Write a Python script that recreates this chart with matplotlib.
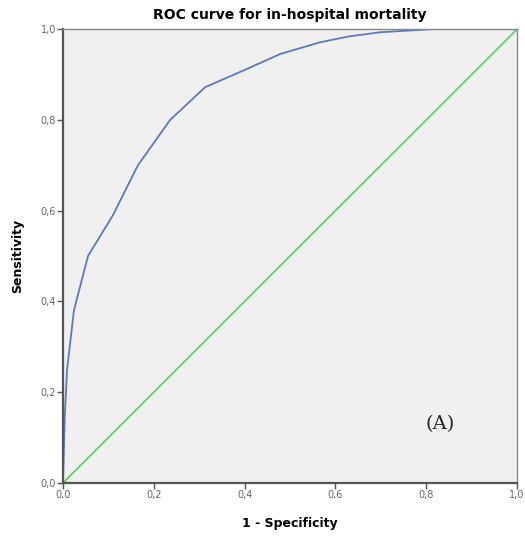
import matplotlib
matplotlib.use("Agg")
import matplotlib.pyplot as plt

# ROC curve points
fpr = [0.0, 0.004, 0.009, 0.024, 0.055, 0.11, 0.165, 0.236, 0.313, 0.40, 0.478, 0.566, 0.63, 0.698, 0.815, 1.0]
tpr = [0.0, 0.15, 0.25, 0.38, 0.50, 0.59, 0.70, 0.80, 0.872, 0.91, 0.945, 0.971, 0.984, 0.993, 1.0, 1.0]
ref_line = [0.0, 1.0]
ticks = [0.0, 0.2, 0.4, 0.6, 0.8, 1.0]
tick_labels = ["0,0", "0,2", "0,4", "0,6", "0,8", "1,0"]

fig = plt.figure(figsize=(5.25, 5.39), dpi=100)
ax = fig.add_axes([0.12, 0.104, 0.865, 0.842])
ax.set_facecolor("#f0f0f0")

ax.plot(ref_line, ref_line, color="#6cc870", linewidth=1.3)
ax.plot(fpr, tpr, color="#5b78c8", linewidth=1.3)

ax.set_xlim(0, 1)
ax.set_ylim(0, 1)
ax.set_xticks(ticks)
ax.set_xticklabels(tick_labels)
ax.set_yticks(ticks)
ax.set_yticklabels(tick_labels)
ax.tick_params(direction="out", length=4, width=1, colors="#555555",
               labelsize=7, labelcolor="#666666", pad=1)

for side in ("left", "bottom"):
    ax.spines[side].set_color("#555555")
    ax.spines[side].set_linewidth(1.6)
for side in ("top", "right"):
    ax.spines[side].set_color("#888888")
    ax.spines[side].set_linewidth(1.0)

ax.set_xlabel("1 - Specificity", fontsize=9, fontweight="bold", labelpad=12)
ax.set_ylabel("Sensitivity", fontsize=9, fontweight="bold", labelpad=12)
ax.set_title("ROC curve for in-hospital mortality", fontsize=10, fontweight="bold", pad=7)

ax.text(0.83, 0.13, "(A)", fontsize=14, family="DejaVu Serif", ha="center", va="center",
        color="#222222")

fig.savefig("out.png", dpi=100)
